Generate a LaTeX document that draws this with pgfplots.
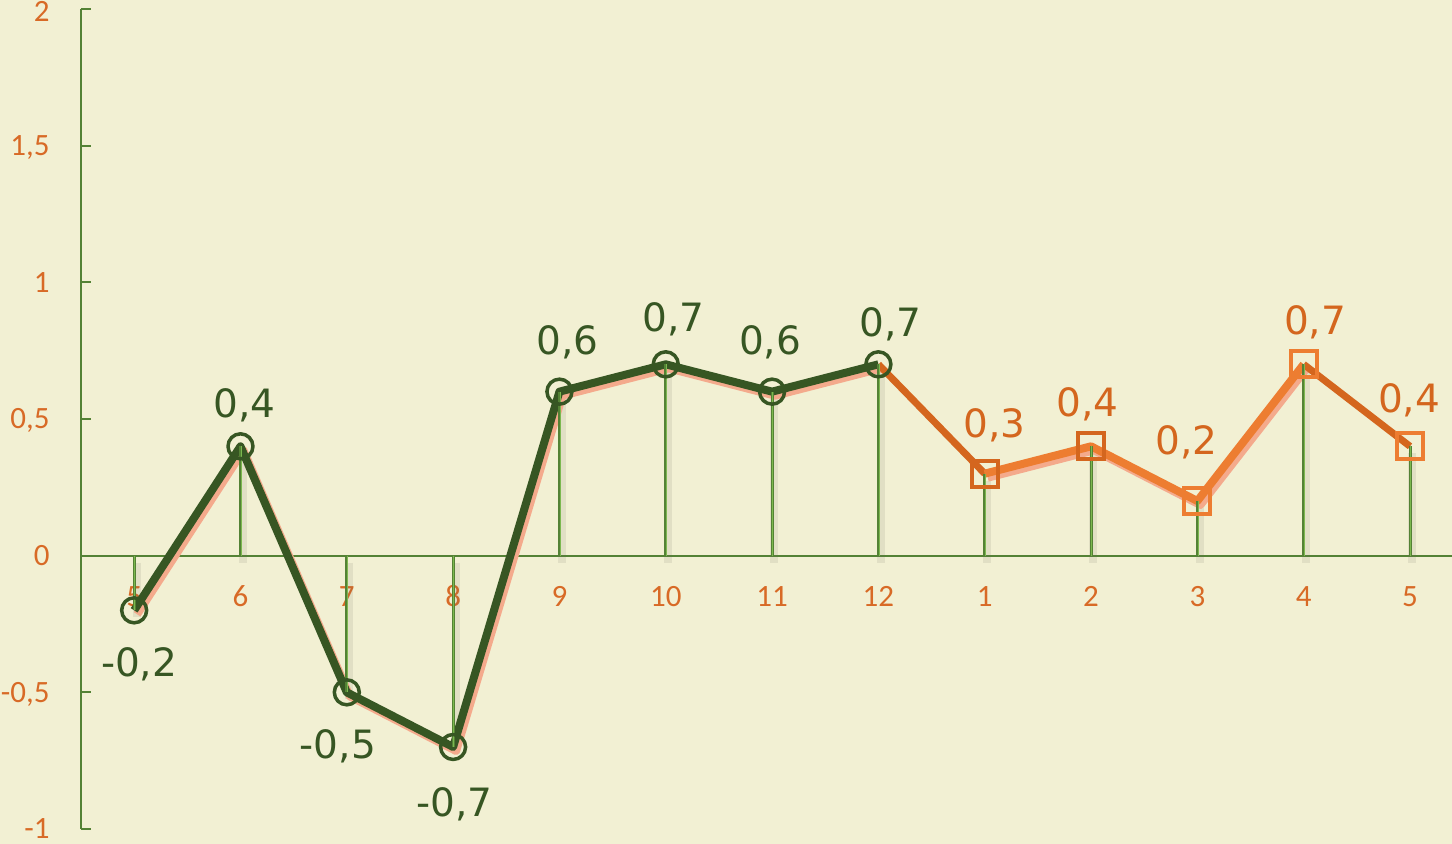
\documentclass[border=0pt]{standalone}
\usepackage{pgfplots}
\pgfplotsset{compat=1.18}
\usepackage{pgfplotstable}
\usepackage{fontspec}
\setmainfont{Carlito}
\newfontfamily\dv{DejaVu Sans}
\definecolor{bg}{HTML}{F2F0D3}
\definecolor{dgreen}{HTML}{375623}
\definecolor{agreen}{HTML}{548235}
\definecolor{lgreen}{HTML}{7CB84F}
\definecolor{dorange}{HTML}{D4661E}
\definecolor{lorange}{HTML}{ED7D31}
\definecolor{pinksh}{HTML}{F4AA8C}
\definecolor{tickor}{HTML}{D86A26}

\pgfplotstableread{
x y lab dx dy
0 -0.2 -0,2 2.5 -33
1 0.4 0,4 2 14.5
2 -0.5 -0,5 -4.5 -33
3 -0.7 -0,7 0.75 -35
4 0.6 0,6 4 18.5
5 0.7 0,7 3.75 16.5
6 0.6 0,6 -1 18.5
7 0.7 0,7 6 14
}\greendata

\pgfplotstableread{
x y lab dx dy
8 0.3 0,3 5 18
9 0.4 0,4 -1.75 15
10 0.2 0,2 -5.5 23
11 0.7 0,7 5.75 15
12 0.4 0,4 -0.5 17
}\orangedata

\pgfplotstableread{
x y
0 -0.2
1 0.4
2 -0.5
3 -0.7
4 0.6
5 0.7
6 0.6
7 0.7
8 0.3
9 0.4
10 0.2
11 0.7
12 0.4
}\alldata

\begin{document}
\begin{tikzpicture}
\fill[bg, use as bounding box] (-40.5pt,-7.5pt) rectangle (685.5pt,414.5pt);
\begin{axis}[
  at={(0,0)}, anchor=south west,
  scale only axis, width=685.5pt, height=410pt,
  xmin=-0.5, xmax=12.395, ymin=-1, ymax=2,
  axis x line=middle, axis y line=left,
  axis line style={agreen, line width=1.1pt, -},
  clip=false,
  xtick={0,...,12},
  xticklabels={5,6,7,8,9,10,11,12,1,2,3,4,5},
  xtick style={draw=none},
  ytick={-1,-0.5,0,0.5,1,1.5,2},
  yticklabels={-1,{-0,5},0,{0,5},1,{1,5},\raisebox{-1.5pt}{2}},
  ytick style={agreen, line width=1.1pt},
  tick align=inside, major tick length=5pt,
  ticklabel style={font=\fontsize{15.5}{18}\selectfont, text=tickor},
  xticklabel style={anchor=base, inner sep=0pt, yshift=-25.5pt},
  yticklabel style={anchor=base east, inner sep=0pt, xshift=-15.5pt, yshift=-5pt},
]
% drop line shadows
\addplot[ycomb, draw=black!55!bg, opacity=0.12, line width=4pt, xshift=1.2pt, yshift=-3.5pt] table[x=x,y=y]{\alldata};
% pink shadows
\addplot[pinksh, line width=4pt, line join=round, xshift=1.5pt, yshift=-2pt] table[x=x,y=y]{\greendata};
\addplot[pinksh, line width=4pt, line join=round, xshift=1.5pt, yshift=-2pt] coordinates {(8,0.3)(9,0.4)(10,0.2)(11,0.7)};
% orange line segments
\addplot[dorange, line width=3.5pt, line join=round] coordinates {(7,0.7)(8,0.3)};
\addplot[lorange, line width=4pt, line join=round] coordinates {(8,0.3)(9,0.4)(10,0.2)(11,0.7)};
\addplot[dorange, line width=3.5pt, line join=round] coordinates {(11,0.7)(12,0.4)};
% green line with circle marks
\addplot[dgreen, line width=4pt, line join=round, mark=o, mark size=6.25pt, mark options={line width=1.75pt, solid}] table[x=x,y=y]{\greendata};
% orange square marks
\addplot[only marks, mark=square, mark size=6.5pt, mark options={draw=dorange, line width=2pt}] coordinates {(8,0.3)(9,0.4)};
\addplot[only marks, mark=square, mark size=6.5pt, mark options={draw=lorange, line width=2pt}] coordinates {(10,0.2)(11,0.7)(12,0.4)};
% drop lines
\addplot[ycomb, draw=agreen, line width=1.5pt] table[x=x,y=y]{\alldata};
\addplot[ycomb, draw=lgreen, line width=0.5pt, xshift=0.4pt] table[x=x,y=y]{\alldata};
% labels
\addplot[draw=none, nodes near coords, point meta=explicit symbolic,
  visualization depends on={\thisrow{dx}\as\ldx},
  visualization depends on={\thisrow{dy}\as\ldy},
  every node near coord/.style={font=\dv\fontsize{19.5}{22}\selectfont, text=dgreen, anchor=base, inner sep=0pt, xshift=\ldx*1pt, yshift=\ldy*1pt}]
  table[x=x,y=y,meta=lab]{\greendata};
\addplot[draw=none, nodes near coords, point meta=explicit symbolic,
  visualization depends on={\thisrow{dx}\as\ldx},
  visualization depends on={\thisrow{dy}\as\ldy},
  every node near coord/.style={font=\dv\fontsize{19.5}{22}\selectfont, text=dorange, anchor=base, inner sep=0pt, xshift=\ldx*1pt, yshift=\ldy*1pt}]
  table[x=x,y=y,meta=lab]{\orangedata};
\end{axis}
\end{tikzpicture}
\end{document}
